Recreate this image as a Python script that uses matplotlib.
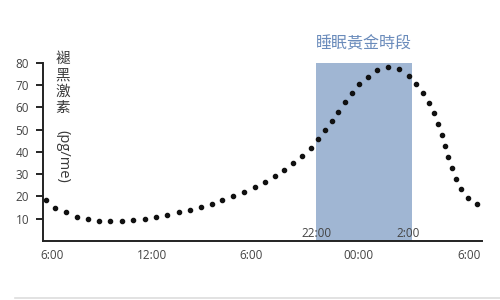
import numpy as np
import matplotlib.pyplot as plt
from matplotlib.lines import Line2D

plt.rcParams['font.family'] = ['Open Sans', 'Noto Sans CJK TC', 'DejaVu Sans']

# Data: position along the time axis (chart units) and melatonin level (pg/ml)
pos = [3, 12, 22.7, 33.7, 44.7, 56, 67, 79, 90.3, 101.7, 113, 124, 135.7, 147, 158,
       169, 179.3, 190.3, 201, 211.7, 222, 232, 241.3, 250, 259, 267.7, 275, 282,
       288.7, 295.3, 302, 309, 316.3, 325, 334.3, 345, 356.3, 366, 373.3, 380.3,
       385.7, 391, 395.3, 398.7, 401.7, 405.3, 408.7, 412.7, 417.7, 424.7, 434]
melatonin = [18.2, 14.9, 12.9, 10.8, 9.7, 9.1, 8.8, 9.1, 9.6, 10.0, 10.8, 11.7, 12.9,
             13.9, 15.3, 16.7, 18.4, 20.2, 22.0, 24.2, 26.6, 29.2, 31.9, 34.9, 38.1,
             41.9, 45.6, 49.8, 54.0, 58.0, 62.2, 66.4, 70.3, 73.7, 76.7, 77.9, 77.0,
             74.2, 70.4, 66.3, 61.8, 57.3, 52.5, 47.6, 42.6, 37.7, 32.7, 28.0, 23.3,
             19.3, 16.5]

tick_pos = [9.5, 108.7, 207.8, 315.3, 426]
tick_labels = ["6:00", "12:00", "6:00", "00:00", "6:00"]
golden_start, golden_end = 273, 368.5
golden_labels = ["22:00", "2:00"]

fig = plt.figure(figsize=(5, 3), dpi=100)
ax = fig.add_axes([0.086, 0.197, 0.878, 0.594])

ax.axvspan(golden_start, golden_end, color="#a0b6d3", lw=0, zorder=0)
ax.plot(pos, melatonin, "o", color="#111111", markersize=3.0, zorder=3)

ax.set_xlim(0, 439)
ax.set_ylim(0, 80)
ax.set_yticks(range(10, 90, 10))
ax.set_xticks(tick_pos)
ax.set_xticklabels(tick_labels)
ax.tick_params(axis="x", length=0, pad=6, labelsize=8.5, labelcolor="#444444")
ax.tick_params(axis="y", length=5, width=1.2, pad=5, labelsize=8.5, labelcolor="#444444")

for s in ["top", "right"]:
    ax.spines[s].set_visible(False)
for s in ["left", "bottom"]:
    ax.spines[s].set_linewidth(1.4)
    ax.spines[s].set_color("#222222")

# 22:00 / 2:00 markers at band edges
ax.text(golden_start + 0.7, 0.6, golden_labels[0], ha="center", va="bottom",
        fontsize=8.5, color="#444444")
ax.text(golden_end - 3, 0.6, golden_labels[1], ha="center", va="bottom",
        fontsize=8.5, color="#444444")

# title over the band
fig.text(0.727, 0.853, "睡眠黃金時段", ha="center", va="center",
         fontsize=11.5, color="#6a8bbb")

# vertical y label
fig.text(0.126, 0.72, "褪\n黑\n激\n素", ha="center", va="center", fontsize=10.5,
         linespacing=1.15, color="#3a3a3a")
fig.text(0.126, 0.48, "(pg/me)", ha="center", va="center", fontsize=10.5,
         rotation=-90, color="#3a3a3a")

# faint rule at the bottom
fig.add_artist(Line2D([0.03, 1.0], [0.006, 0.006], transform=fig.transFigure,
                      color="#dddddd", lw=1.2))

plt.savefig("out.png", dpi=100)
